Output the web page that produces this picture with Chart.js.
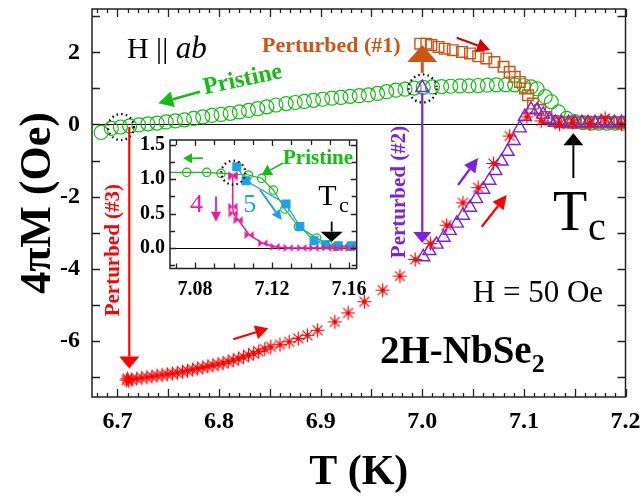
<!DOCTYPE html>
<html>
<head>
<meta charset="utf-8">
<script src="https://cdn.jsdelivr.net/npm/chart.js@4.4.0/dist/chart.umd.min.js"></script>
<style>
  body { margin: 0; background: #fff; }
  #wrap { position: relative; width: 641px; height: 500px; }
  #wrap canvas { position: absolute; left: 0; top: 0; }
</style>
</head>
<body>
<div id="wrap">
  <canvas id="main" width="641" height="500"></canvas>
  <canvas id="inset" width="641" height="500"></canvas>
</div>
<script>
// ---- main panel data: T (K) and 4piM (Oe)
const pristineT = [6.684, 6.694, 6.703, 6.712, 6.721, 6.730, 6.739, 6.748, 6.757, 6.766,
  6.775, 6.784, 6.793, 6.802, 6.811, 6.820, 6.829, 6.838, 6.847, 6.856,
  6.866, 6.875, 6.884, 6.893, 6.902, 6.911, 6.920, 6.929, 6.938, 6.947,
  6.956, 6.965, 6.974, 6.983, 6.992, 7.001, 7.010, 7.019, 7.028, 7.037,
  7.046, 7.055, 7.064, 7.073, 7.082, 7.091, 7.100, 7.107, 7.113, 7.121,
  7.127, 7.134, 7.142, 7.150, 7.158, 7.166, 7.174, 7.182, 7.190, 7.198];
const pristineM = [-0.22, -0.11, -0.07, -0.04, -0.01, 0.02, 0.04, 0.07, 0.10, 0.13,
  0.17, 0.21, 0.25, 0.28, 0.31, 0.35, 0.39, 0.44, 0.49, 0.54,
  0.58, 0.61, 0.64, 0.67, 0.70, 0.73, 0.75, 0.78, 0.80, 0.82,
  0.86, 0.91, 0.95, 0.98, 1.01, 1.03, 1.04, 1.05, 1.06, 1.07,
  1.07, 1.08, 1.09, 1.10, 1.10, 1.10, 1.08, 1.04, 0.99, 0.77,
  0.63, 0.35, 0.17, 0.08, 0.05, 0.04, 0.04, 0.04, 0.04, 0.04];

const pert1T = [6.998, 7.004, 7.009, 7.016, 7.022, 7.030, 7.039, 7.047, 7.055, 7.063,
  7.071, 7.080, 7.086, 7.091, 7.096, 7.101, 7.104, 7.109, 7.116, 7.122,
  7.129, 7.135, 7.142, 7.148, 7.155, 7.161, 7.168, 7.174, 7.181, 7.187, 7.194, 7.200];
const pert1M = [2.24, 2.24, 2.20, 2.15, 2.10, 2.06, 2.01, 1.97, 1.89, 1.83,
  1.73, 1.60, 1.46, 1.32, 1.18, 1.00, 0.81, 0.58, 0.40, 0.21,
  0.10, 0.06, 0.06, 0.05, 0.06, 0.05, 0.06, 0.05, 0.06, 0.05, 0.06, 0.05];

const pert2T = [7.000, 7.001, 7.007, 7.014, 7.021, 7.027, 7.034, 7.040, 7.047, 7.053,
  7.060, 7.066, 7.072, 7.078, 7.084, 7.090, 7.096, 7.101, 7.107, 7.113,
  7.119, 7.125, 7.131, 7.137, 7.144, 7.150, 7.157, 7.163, 7.170, 7.176,
  7.183, 7.189, 7.196];
const pert2M = [1.02, -3.67, -3.50, -3.32, -3.13, -2.94, -2.74, -2.52, -2.30, -2.06,
  -1.80, -1.55, -1.28, -1.02, -0.75, -0.45, -0.10, 0.22, 0.42, 0.40,
  0.28, 0.14, 0.06, 0.05, 0.05, 0.05, 0.05, 0.05, 0.05, 0.05,
  0.05, 0.05, 0.05];

const pert3T = [6.709, 6.710, 6.711, 6.714, 6.719, 6.724, 6.729, 6.734, 6.739, 6.744,
  6.749, 6.754, 6.759, 6.764, 6.769, 6.774, 6.779, 6.784, 6.789, 6.794,
  6.799, 6.804, 6.809, 6.814, 6.819, 6.824, 6.829, 6.834, 6.839, 6.845,
  6.851, 6.860, 6.869, 6.878, 6.887, 6.897, 6.914, 6.927, 6.943, 6.961,
  6.978, 6.993, 7.008, 7.024, 7.040, 7.055, 7.070, 7.086, 7.103, 7.117,
  7.135, 7.148, 7.165, 7.180, 7.196];
const pert3M = [-7.08, -7.04, -7.10, -7.06, -7.04, -7.02, -7.00, -6.98, -6.96, -6.94,
  -6.92, -6.90, -6.88, -6.85, -6.82, -6.79, -6.76, -6.73, -6.70, -6.67,
  -6.64, -6.61, -6.57, -6.53, -6.49, -6.44, -6.39, -6.34, -6.29, -6.22,
  -6.16, -6.10, -6.02, -5.93, -5.84, -5.70, -5.47, -5.22, -4.91, -4.59,
  -4.20, -3.74, -3.30, -2.79, -2.17, -1.75, -1.08, -0.32, 0.21, 0.10,
  0.01, 0.05, 0.03, 0.17, 0.01];

const xTicks = [6.7, 6.8, 6.9, 7.0, 7.1, 7.2];
const yTicks = [-6, -4, -2, 0, 2];

// ---- inset data
const inPristineT = [7.063, 7.0757, 7.0861, 7.0935, 7.1077, 7.1146, 7.1207, 7.1267, 7.1337, 7.1432, 7.1492, 7.1536, 7.1605];
const inPristineM = [1.10, 1.10, 1.10, 1.085, 1.061, 1.013, 0.842, 0.566, 0.310, 0.142, 0.045, 0.02, 0.02];
const inBlueT = [7.1017, 7.1065, 7.1273, 7.1345, 7.1418, 7.1479, 7.1544, 7.1614];
const inBlueM = [1.182, 0.978, 0.639, 0.310, 0.105, 0.045, 0.03, 0.03];
const inMagT = [7.0996, 7.0996, 7.0996, 7.0999, 7.1025, 7.1082, 7.1152, 7.1216, 7.1285, 7.1354, 7.1418, 7.1484, 7.1544, 7.1605];
const inMagM = [1.06, 1.036, 0.599, 0.503, 0.405, 0.188, 0.067, 0.017, 0.0, 0.0, 0.0, 0.0, 0.0, 0.0];
const insetXTicks = [7.08, 7.12, 7.16];
const insetYTicks = [0.0, 0.5, 1.0, 1.5];

const GREEN = '#12BE12', ORANGE = '#CC5514', RED = '#FF0000', PURPLE = '#7A22E0',
      MAGENTA = '#F0199E', BLUE = '#1BA3E4';
const SERIF = '"Liberation Serif", "Times New Roman", serif';

function pts(xs, ys) { return xs.map((x, i) => ({ x: x, y: ys[i] })); }

// asterisk marker with centre dot
function starMarker(color) {
  const c = document.createElement('canvas');
  c.width = 17; c.height = 17;
  const g = c.getContext('2d');
  g.strokeStyle = color; g.lineWidth = 1.2;
  g.beginPath();
  for (let i = 0; i < 4; i++) {
    const a = i * Math.PI / 4;
    g.moveTo(8.5 - 7 * Math.cos(a), 8.5 - 7 * Math.sin(a));
    g.lineTo(8.5 + 7 * Math.cos(a), 8.5 + 7 * Math.sin(a));
  }
  g.stroke();
  g.fillStyle = color;
  g.beginPath(); g.arc(8.5, 8.5, 2.2, 0, Math.PI * 2); g.fill();
  return c;
}

// bowtie marker
function bowtieMarker(color) {
  const c = document.createElement('canvas');
  c.width = 10; c.height = 10;
  const g = c.getContext('2d');
  g.fillStyle = color;
  g.beginPath();
  g.moveTo(0.5, 1); g.lineTo(5, 5); g.lineTo(0.5, 9); g.closePath();
  g.moveTo(9.5, 1); g.lineTo(5, 5); g.lineTo(9.5, 9); g.closePath();
  g.fill();
  return c;
}

function arrow(ctx, x1, y1, x2, y2, color, lw, hl, hw) {
  const ang = Math.atan2(y2 - y1, x2 - x1);
  const bx = x2 - hl * Math.cos(ang), by = y2 - hl * Math.sin(ang);
  ctx.save();
  ctx.strokeStyle = color; ctx.fillStyle = color; ctx.lineWidth = lw;
  ctx.beginPath(); ctx.moveTo(x1, y1); ctx.lineTo(bx, by); ctx.stroke();
  ctx.beginPath();
  ctx.moveTo(x2, y2);
  ctx.lineTo(bx + hw * Math.sin(ang), by - hw * Math.cos(ang));
  ctx.lineTo(bx - hw * Math.sin(ang), by + hw * Math.cos(ang));
  ctx.closePath(); ctx.fill();
  ctx.restore();
}

function dottedCircle(ctx, x, y, r) {
  ctx.save();
  ctx.strokeStyle = '#000'; ctx.lineWidth = 2.2;
  ctx.setLineDash([1.5, 3.2]);
  ctx.beginPath(); ctx.arc(x, y, r, 0, Math.PI * 2); ctx.stroke();
  ctx.restore();
}

function text(ctx, str, x, y, font, color, align, rot) {
  ctx.save();
  ctx.font = font; ctx.fillStyle = color;
  ctx.textAlign = align || 'left';
  ctx.textBaseline = 'alphabetic';
  ctx.translate(x, y);
  if (rot) ctx.rotate(rot);
  ctx.fillText(str, 0, 0);
  ctx.restore();
}

// inward ticks on all four sides + frame
function drawFrame(chart, xs, ys) {
  const { ctx, chartArea: a, scales: { x, y } } = chart;
  ctx.save();
  ctx.strokeStyle = '#222'; ctx.lineWidth = 1.3;
  ctx.beginPath();
  const marks = (scale, step, every, long, short, horiz) => {
    const first = Math.ceil(scale.min / step - 1e-6);
    const last = Math.floor(scale.max / step + 1e-6);
    for (let k = first; k <= last; k++) {
      const len = (k % every === 0) ? long : short;
      const p = Math.round(scale.getPixelForValue(k * step)) + 0.5;
      if (horiz) {
        ctx.moveTo(p, a.bottom); ctx.lineTo(p, a.bottom - len);
        ctx.moveTo(p, a.top); ctx.lineTo(p, a.top + len);
      } else {
        ctx.moveTo(a.left, p); ctx.lineTo(a.left + len, p);
        ctx.moveTo(a.right, p); ctx.lineTo(a.right - len, p);
      }
    }
  };
  marks(x, xs.step, xs.every, xs.long, xs.short, true);
  marks(y, ys.step, ys.every, ys.long, ys.short, false);
  ctx.stroke();
  ctx.lineWidth = 1.5;
  ctx.strokeRect(a.left, a.top, a.right - a.left, a.bottom - a.top);
  ctx.restore();
}

function zeroLine(chart) {
  const { ctx, chartArea: a, scales: { y } } = chart;
  const y0 = Math.round(y.getPixelForValue(0)) + 0.5;
  ctx.save();
  ctx.strokeStyle = '#000'; ctx.lineWidth = 1;
  ctx.beginPath(); ctx.moveTo(a.left, y0); ctx.lineTo(a.right, y0); ctx.stroke();
  ctx.restore();
}

// keep chart area exactly where the layout padding puts it
function noLabelPadding(s) {
  s.paddingTop = 0; s.paddingBottom = 0; s.paddingLeft = 0; s.paddingRight = 0;
}

const mainDecor = {
  id: 'mainDecor',
  beforeDatasetsDraw(chart) { zeroLine(chart); },
  afterDatasetsDraw(chart) {
    const { ctx, scales: { x, y } } = chart;
    const P = (t, m) => [x.getPixelForValue(t), y.getPixelForValue(m)];
    let p, q;
    // dotted circles
    p = P(6.7035, -0.07); dottedCircle(ctx, p[0], p[1], 13);
    p = P(7.0004, 1.0); dottedCircle(ctx, p[0], p[1], 14);
    // perturbation arrows
    p = P(7.0, 1.43); q = P(7.0, 2.2); arrow(ctx, p[0], p[1], q[0], q[1], ORANGE, 3, 17, 15);
    p = P(7.0, 0.87); q = P(7.0, -3.28); arrow(ctx, p[0], p[1], q[0], q[1], PURPLE, 2.2, 11, 9);
    p = P(6.7117, -0.07); q = P(6.7117, -6.76); arrow(ctx, p[0], p[1], q[0], q[1], RED, 2.2, 12, 10);
    // direction arrows
    p = P(7.0339, 2.405); q = P(7.0667, 2.064); arrow(ctx, p[0], p[1], q[0], q[1], '#D40000', 2, 13, 7);
    p = P(6.7813, 0.909); q = P(6.7402, 0.588); arrow(ctx, p[0], p[1], q[0], q[1], GREEN, 2.5, 15, 8);
    p = P(7.0352, -1.677); q = P(7.0549, -0.929); arrow(ctx, p[0], p[1], q[0], q[1], PURPLE, 2.2, 14, 7);
    p = P(7.0585, -2.832); q = P(7.0831, -1.954); arrow(ctx, p[0], p[1], q[0], q[1], RED, 2.2, 14, 7);
    p = P(6.8140, -5.952); q = P(6.8485, -5.647); arrow(ctx, p[0], p[1], q[0], q[1], RED, 2.2, 13, 7);
    p = P(7.1487, -1.483); q = P(7.1487, -0.244); arrow(ctx, p[0], p[1], q[0], q[1], '#000', 2, 12, 10);
    // labels
    p = P(6.7094, 1.842);
    text(ctx, 'H || ', p[0], p[1], '30px ' + SERIF, '#000');
    ctx.save(); ctx.font = '30px ' + SERIF; const w = ctx.measureText('H || ').width; ctx.restore();
    text(ctx, 'ab', p[0] + w, p[1], 'italic 31px ' + SERIF, '#000');
    p = P(6.8423, 2.009); text(ctx, 'Perturbed (#1)', p[0], p[1], 'bold 22px ' + SERIF, ORANGE);
    p = P(6.8246, 1.066); text(ctx, 'Pristine', p[0], p[1], 'bold 24px ' + SERIF, GREEN, 'center', -0.21);
    p = P(6.7012, -3.48); text(ctx, 'Perturbed (#3)', p[0], p[1], 'bold 21px ' + SERIF, RED, 'center', -Math.PI / 2);
    p = P(6.9826, -1.87); text(ctx, 'Perturbed (#2)', p[0], p[1], 'bold 21px ' + SERIF, PURPLE, 'center', -Math.PI / 2);
    p = P(7.1287, -2.924); text(ctx, 'T', p[0], p[1], '56px ' + SERIF, '#000');
    p = P(7.1631, -3.2); text(ctx, 'c', p[0], p[1], '40px ' + SERIF, '#000');
    p = P(7.1779, -4.919); text(ctx, 'H = 50 Oe', p[0], p[1], '31px ' + SERIF, '#000', 'right');
    p = P(6.9584, -6.609);
    text(ctx, '2H-NbSe', p[0], p[1], 'bold 39px ' + SERIF, '#000');
    ctx.save(); ctx.font = 'bold 39px ' + SERIF; const w2 = ctx.measureText('2H-NbSe').width; ctx.restore();
    text(ctx, '2', p[0] + w2, p[1] + 9, 'bold 26px ' + SERIF, '#000');
  },
  afterDraw(chart) {
    drawFrame(chart, { step: 0.01, every: 5, long: 8, short: 4 }, { step: 1, every: 1, long: 8, short: 8 });
    const { ctx, chartArea: a } = chart;
    text(ctx, 'T (K)', (a.left + a.right) / 2, 484, 'bold 42px ' + SERIF, '#000', 'center');
    text(ctx, '4πM (Oe)', 50, (a.top + a.bottom) / 2, 'bold 44px ' + SERIF, '#000', 'center', -Math.PI / 2);
  }
};

const insetDecor = {
  id: 'insetDecor',
  beforeDraw(chart) {
    const { ctx, chartArea: a } = chart;
    ctx.save(); ctx.fillStyle = '#fff';
    ctx.fillRect(a.left, a.top, a.right - a.left, a.bottom - a.top);
    ctx.restore();
  },
  beforeDatasetsDraw(chart) { zeroLine(chart); },
  afterDatasetsDraw(chart) {
    const { ctx, scales: { x, y } } = chart;
    const P = (t, m) => [x.getPixelForValue(t), y.getPixelForValue(m)];
    let p, q;
    p = P(7.0999, 1.094); dottedCircle(ctx, p[0], p[1], 12);
    p = P(7.0841, 1.304); q = P(7.0738, 1.304); arrow(ctx, p[0], p[1], q[0], q[1], GREEN, 1.8, 9, 5);
    p = P(7.1257, 1.235); q = P(7.1146, 1.061); arrow(ctx, p[0], p[1], q[0], q[1], GREEN, 1.5, 10, 6);
    p = P(7.0909, 0.746); q = P(7.0909, 0.382); arrow(ctx, p[0], p[1], q[0], q[1], MAGENTA, 1.8, 10, 5);
    p = P(7.1138, 0.842); q = P(7.125, 0.406); arrow(ctx, p[0], p[1], q[0], q[1], BLUE, 1.8, 10, 5);
    p = P(7.151, 0.382); q = P(7.151, 0.091); arrow(ctx, p[0], p[1], q[0], q[1], '#000', 1.8, 10, 11);
    p = P(7.1257, 1.22); text(ctx, 'Pristine', p[0], p[1], 'bold 21px ' + SERIF, GREEN);
    p = P(7.0774, 0.527); text(ctx, '4', p[0], p[1], '26px ' + SERIF, MAGENTA);
    p = P(7.1051, 0.527); text(ctx, '5', p[0], p[1], '26px ' + SERIF, BLUE);
    p = P(7.144, 0.624); text(ctx, 'T', p[0], p[1], '30px ' + SERIF, '#000');
    p = P(7.1548, 0.527); text(ctx, 'c', p[0], p[1], '22px ' + SERIF, '#000');
  },
  afterDraw(chart) {
    drawFrame(chart, { step: 0.01, every: 4, long: 6, short: 5 }, { step: 0.25, every: 2, long: 6, short: 5 });
  }
};

const tickFont = (s) => ({ family: SERIF, size: s, weight: 'bold' });

new Chart(document.getElementById('main'), {
  type: 'scatter',
  data: {
    datasets: [
      { label: 'Perturbed (#3)', data: pts(pert3T, pert3M), pointStyle: starMarker(RED), pointRadius: 8 },
      { label: 'Perturbed (#2)', data: pts(pert2T, pert2M), pointStyle: 'triangle', pointRadius: 7.5,
        borderColor: PURPLE, backgroundColor: 'rgba(0,0,0,0)', borderWidth: 1.4 },
      { label: 'Perturbed (#1)', data: pts(pert1T, pert1M), pointStyle: 'rect', pointRadius: 7.5,
        borderColor: ORANGE, backgroundColor: 'rgba(0,0,0,0)', borderWidth: 1.4 },
      { label: 'Pristine', data: pts(pristineT, pristineM), pointStyle: 'circle', pointRadius: 7,
        borderColor: GREEN, backgroundColor: 'rgba(0,0,0,0)', borderWidth: 1.2 }
    ]
  },
  options: {
    responsive: false, animation: false, devicePixelRatio: 1,
    layout: { padding: { left: 0, right: 15.5, top: 9, bottom: 0 } },
    plugins: { legend: { display: false }, tooltip: { enabled: false } },
    scales: {
      x: {
        type: 'linear', min: 6.675, max: 7.2,
        afterBuildTicks: (s) => { s.ticks = xTicks.map(v => ({ value: v })); },
        afterFit: (s) => { s.height = 103; noLabelPadding(s); },
        grid: { display: false, drawTicks: false }, border: { display: false },
        ticks: { color: '#000', font: tickFont(24), padding: 10, maxRotation: 0,
          callback: (v) => Number(v).toFixed(1) }
      },
      y: {
        type: 'linear', min: -7.55, max: 3.2,
        afterBuildTicks: (s) => { s.ticks = yTicks.map(v => ({ value: v })); },
        afterFit: (s) => { s.width = 92; noLabelPadding(s); },
        grid: { display: false, drawTicks: false }, border: { display: false },
        ticks: { color: '#000', font: tickFont(24), padding: 12, callback: (v) => String(v) }
      }
    }
  },
  plugins: [mainDecor]
});

new Chart(document.getElementById('inset'), {
  type: 'scatter',
  data: {
    datasets: [
      { label: '4', data: pts(inMagT, inMagM), showLine: true, borderColor: MAGENTA, borderWidth: 1.5,
        pointStyle: bowtieMarker(MAGENTA), pointRadius: 5, clip: 0 },
      { label: '5', data: pts(inBlueT, inBlueM), showLine: true, borderColor: BLUE, borderWidth: 1.2,
        pointStyle: 'rect', pointRadius: 5.5, backgroundColor: BLUE, pointBorderColor: BLUE, clip: 0 },
      { label: 'Pristine', data: pts(inPristineT, inPristineM), showLine: true, borderColor: GREEN, borderWidth: 1.2,
        pointStyle: 'circle', pointRadius: 4.2, backgroundColor: 'rgba(0,0,0,0)', pointBorderWidth: 1.2, clip: 0 }
    ]
  },
  options: {
    responsive: false, animation: false, devicePixelRatio: 1,
    layout: { padding: { left: 130, right: 284.3, top: 140, bottom: 191.5 } },
    plugins: { legend: { display: false }, tooltip: { enabled: false } },
    scales: {
      x: {
        type: 'linear', min: 7.067, max: 7.164,
        afterBuildTicks: (s) => { s.ticks = insetXTicks.map(v => ({ value: v })); },
        afterFit: (s) => { s.height = 40; noLabelPadding(s); },
        grid: { display: false, drawTicks: false }, border: { display: false },
        ticks: { color: '#000', font: tickFont(20), padding: 9, maxRotation: 0,
          callback: (v) => Number(v).toFixed(2) }
      },
      y: {
        type: 'linear', min: -0.3, max: 1.57,
        afterBuildTicks: (s) => { s.ticks = insetYTicks.map(v => ({ value: v })); },
        afterFit: (s) => { s.width = 40; noLabelPadding(s); },
        grid: { display: false, drawTicks: false }, border: { display: false },
        ticks: { color: '#000', font: tickFont(20), padding: 5, callback: (v) => Number(v).toFixed(1) }
      }
    }
  },
  plugins: [insetDecor]
});
</script>
</body>
</html>
